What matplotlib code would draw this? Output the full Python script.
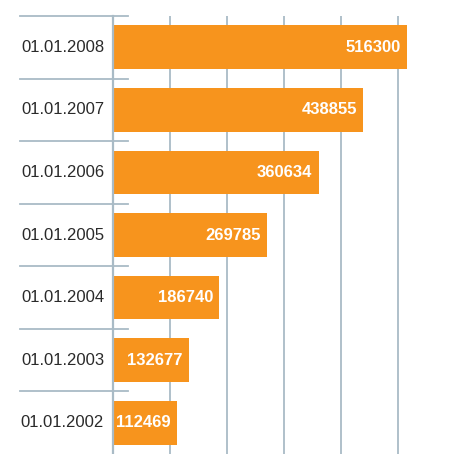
import matplotlib
matplotlib.use("Agg")
import matplotlib.pyplot as plt
import matplotlib.transforms as mtransforms

# data, bottom to top
dates = ["01.01.2002", "01.01.2003", "01.01.2004", "01.01.2005",
         "01.01.2006", "01.01.2007", "01.01.2008"]
values = [112469, 132677, 186740, 269785, 360634, 438855, 516300]

bar_color = "#F7941D"
line_color = "#A9BBC6"

fig = plt.figure(figsize=(4.5, 4.54), dpi=100)
fig.patch.set_facecolor("white")
ax = fig.add_axes([113 / 450, 0.0, 1 - 113 / 450, 1 - 16 / 454])

pos = list(range(len(dates)))
ax.barh(pos, values, height=0.7, color=bar_color, zorder=3)

ax.set_xlim(0, 591000)
ax.set_ylim(-0.5, len(dates) - 0.5)

# vertical grid lines
ax.set_xticks([100000, 200000, 300000, 400000, 500000])
ax.xaxis.grid(True, color=line_color, linewidth=1.3, zorder=0)
ax.tick_params(axis="x", length=0, labelbottom=False)
ax.tick_params(axis="y", length=0, labelleft=False)

for s in ["top", "right", "bottom"]:
    ax.spines[s].set_visible(False)
ax.spines["left"].set_color(line_color)
ax.spines["left"].set_linewidth(1.6)
ax.spines["left"].set_zorder(4)

# row separators that stick out left of the axis
trans = mtransforms.blended_transform_factory(fig.transFigure, ax.transData)
for i in range(len(dates)):
    ax.plot([20 / 450, 128 / 450], [i + 0.5, i + 0.5], color=line_color,
            linewidth=1.3, transform=trans, clip_on=False, zorder=5)

# date labels
for i, d in enumerate(dates):
    ax.text(104 / 450, i, d, transform=trans, ha="right", va="center",
            fontsize=12, family=["Liberation Sans", "DejaVu Sans"], color="#2a2a2a")

# value labels inside the bars
for i, v in enumerate(values):
    ax.annotate(str(v), (v, i), xytext=(-4.5, 0), textcoords="offset points",
                ha="right", va="center", color="white", fontsize=12,
                fontweight="bold", fontstretch="condensed",
                family=["Liberation Sans", "DejaVu Sans"], zorder=6)

fig.savefig("out.png", dpi=100, facecolor="white")
